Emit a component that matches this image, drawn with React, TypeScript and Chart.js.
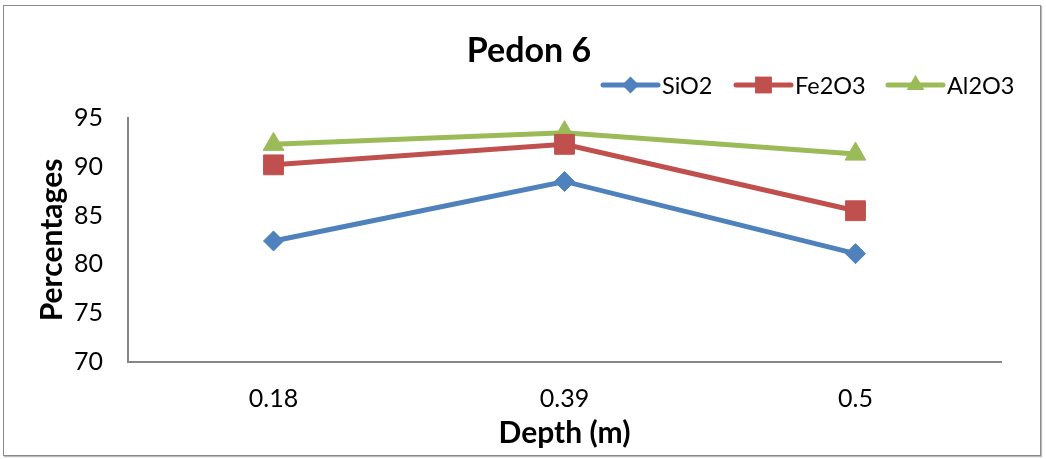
import React, { useEffect, useRef } from "react";
import { Chart, registerables } from "chart.js";

Chart.register(...registerables);

const depths = ["0.18", "0.39", "0.5"];
const sio2 = [82.4, 88.5, 81.1];
const fe2o3 = [90.2, 92.3, 85.5];
const al2o3 = [92.3, 93.5, 91.3];
const yTicksMin = 70;
const yTicksMax = 95;
const yStep = 5;

const chartTitle = "Pedon 6";
const xTitle = "Depth (m)";
const yTitle = "Percentages";

const BLUE = "#4F81BD";
const RED = "#C0504D";
const GREEN = "#9BBB59";
const FONT = "Lato, 'Open Sans', sans-serif";

function drawMarker(ctx: CanvasRenderingContext2D, style: string, x: number, y: number, r: number, color: string) {
  ctx.save();
  ctx.fillStyle = color;
  ctx.beginPath();
  if (style === "rectRot") {
    ctx.moveTo(x, y - r);
    ctx.lineTo(x + r, y);
    ctx.lineTo(x, y + r);
    ctx.lineTo(x - r, y);
    ctx.closePath();
  } else if (style === "rect") {
    const s = r / Math.SQRT2;
    ctx.rect(x - s, y - s, 2 * s, 2 * s);
  } else {
    const h = (r * Math.sqrt(3)) / 2;
    ctx.moveTo(x, y - r);
    ctx.lineTo(x + h, y + r / 2);
    ctx.lineTo(x - h, y + r / 2);
    ctx.closePath();
  }
  ctx.fill();
  ctx.restore();
}

const legendStarts = [603, 736, 888];

const decorPlugin = {
  id: "decor",
  afterDraw(chart: any) {
    const ctx: CanvasRenderingContext2D = chart.ctx;
    ctx.save();
    // title
    ctx.fillStyle = "#000";
    ctx.font = `bold 34px ${FONT}`;
    ctx.textAlign = "center";
    ctx.textBaseline = "middle";
    ctx.fillText(chartTitle, 529, 51);
    // legend
    ctx.font = `23.5px ${FONT}`;
    ctx.textAlign = "left";
    const y = 85;
    chart.data.datasets.forEach((ds: any, i: number) => {
      const x = legendStarts[i];
      ctx.strokeStyle = ds.borderColor;
      ctx.lineWidth = 5;
      ctx.lineCap = "round";
      ctx.beginPath();
      ctx.moveTo(x, y);
      ctx.lineTo(x + 55, y);
      ctx.stroke();
      drawMarker(ctx, ds.pointStyle, x + 27.5, y, ds.pointRadius * 0.85, ds.borderColor);
      ctx.fillStyle = "#000";
      ctx.fillText(ds.label, x + 59, y + 1);
    });
    ctx.restore();
  },
};

export default function App() {
  const ref = useRef<HTMLCanvasElement>(null);
  useEffect(() => {
    document.body.style.margin = "0";
    const chart = new Chart(ref.current as HTMLCanvasElement, {
      type: "line",
      data: {
        labels: depths,
        datasets: [
          { label: "SiO2", data: sio2, borderColor: BLUE, backgroundColor: BLUE, pointStyle: "rectRot", pointRadius: 10, borderWidth: 5, pointBorderWidth: 1 },
          { label: "Fe2O3", data: fe2o3, borderColor: RED, backgroundColor: RED, pointStyle: "rect", pointRadius: 14, borderWidth: 5, pointBorderWidth: 1 },
          { label: "Al2O3", data: al2o3, borderColor: GREEN, backgroundColor: GREEN, pointStyle: "triangle", pointRadius: 12, borderWidth: 5, pointBorderWidth: 1 },
        ] as any,
      },
      options: {
        animation: false,
        responsive: false,
        layout: { padding: { top: 118, left: 0, right: 45, bottom: 0 } },
        plugins: { legend: { display: false }, title: { display: false }, tooltip: { enabled: false } },
        scales: {
          x: {
            type: "category",
            offset: true,
            grid: { color: "transparent", drawTicks: false },
            border: { display: true, color: "#868686", width: 2 },
            ticks: { color: "#000", font: { family: FONT, size: 25 }, padding: 22 },
            title: { display: true, text: xTitle, color: "#000", font: { family: FONT, size: 30, weight: "bold" }, padding: { top: 0, bottom: 8 } },
            afterFit: (s: any) => { s.height = 97; s.paddingLeft = 0; s.paddingRight = 0; },
          },
          y: {
            min: yTicksMin,
            max: yTicksMax,
            grid: { color: "transparent", drawTicks: false },
            border: { display: true, color: "#868686", width: 2 },
            ticks: { stepSize: yStep, color: "#000", font: { family: FONT, size: 25 }, padding: 25 },
            title: { display: true, text: yTitle, color: "#000", font: { family: FONT, size: 30, weight: "bold" }, padding: { top: 34, bottom: 0 } },
            afterFit: (s: any) => { s.width = 128; s.paddingTop = 0; s.paddingBottom = 0; },
          },
        } as any,
      },
      plugins: [decorPlugin],
    });
    return () => chart.destroy();
  }, []);
  return (
    <div style={{ position: "relative", width: 1046, height: 459, background: "#fff" }}>
      <div style={{ position: "absolute", left: 3, top: 5, width: 1036, height: 449, border: "1px solid #8a8a8a", boxShadow: "1px 1px 1px #bbb" }} />
      <canvas ref={ref} width={1046} height={459} style={{ position: "absolute", left: 0, top: 0 }} />
    </div>
  );
}
